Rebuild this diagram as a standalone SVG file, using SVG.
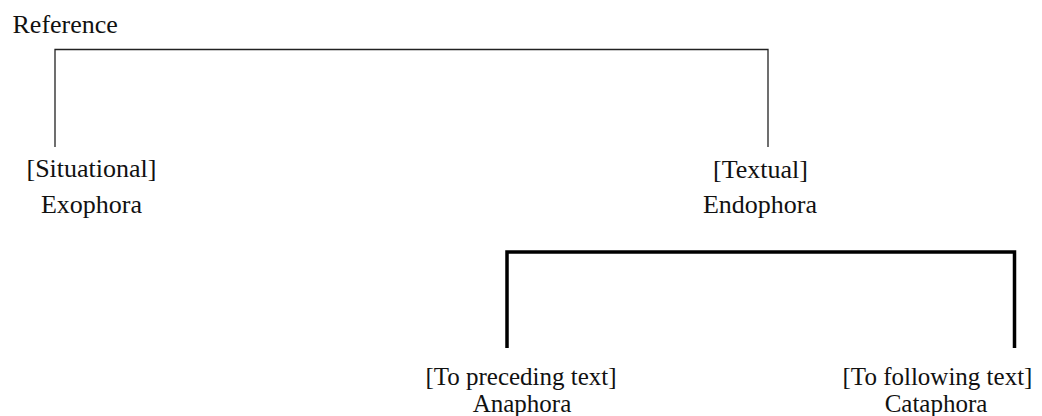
<svg xmlns="http://www.w3.org/2000/svg" width="1042" height="416" viewBox="0 0 1042 416">
<style>
text{font-family:"Liberation Serif","Times New Roman",serif;font-size:26px;fill:#111;}
.c{text-anchor:middle;}
.s{font-size:25px;}
.thin{fill:none;stroke:#222;stroke-width:1.3;}
.thick{fill:none;stroke:#000;stroke-width:3.5;}
</style>
<rect width="1042" height="416" fill="#fff"/>
<g id="connectors">
<path class="thin" d="M55,147 V49.5 H768 V147"/>
<path class="thick" d="M507,348 V252 H1014.5 V348"/>
</g>
<g id="reference"><text x="12.5" y="33">Reference</text></g>
<g id="exophora"><text class="c" x="91.5" y="177">[Situational]</text><text class="c" x="91.5" y="212.5">Exophora</text></g>
<g id="endophora"><text class="c" x="760.5" y="178">[Textual]</text><text class="c" x="760" y="212.5">Endophora</text></g>
<g id="anaphora"><text class="c s" x="521" y="384.5">[To preceding text]</text><text class="c s" x="522" y="412">Anaphora</text></g>
<g id="cataphora"><text class="c s" x="937.5" y="384.5">[To following text]</text><text class="c s" x="936" y="412">Cataphora</text></g>
</svg>
